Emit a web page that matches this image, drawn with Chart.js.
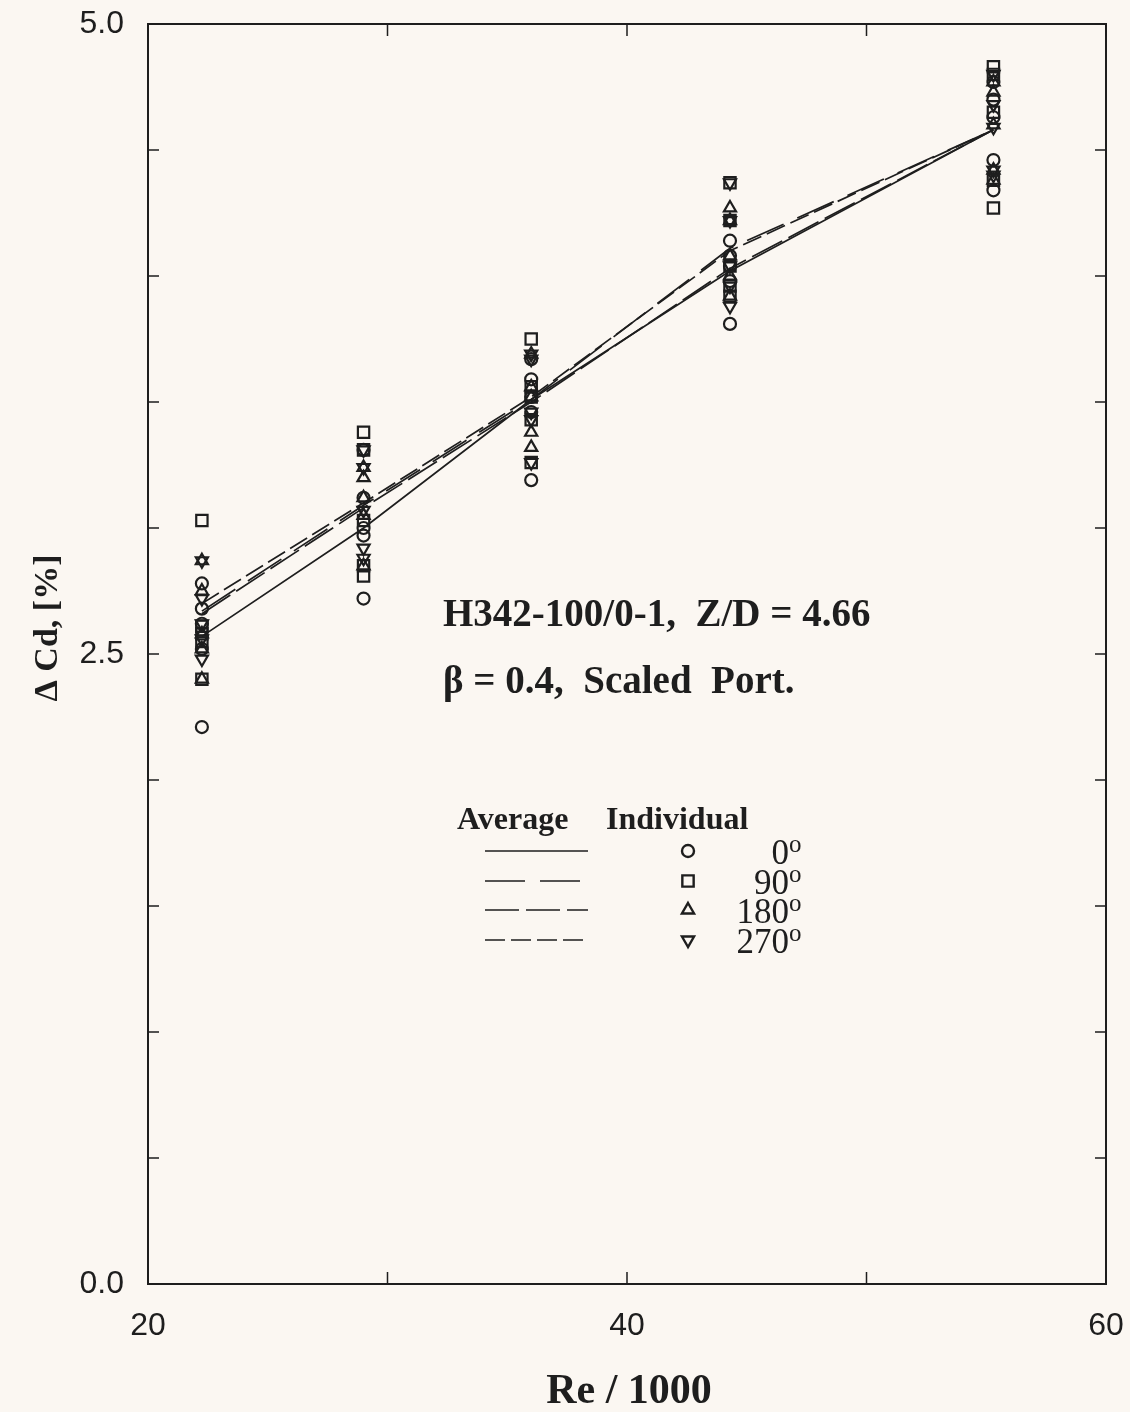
<!DOCTYPE html>
<html>
<head>
<meta charset="utf-8">
<script src="https://cdn.jsdelivr.net/npm/chart.js@4.4.1/dist/chart.umd.min.js"></script>
<style>
  html, body { margin: 0; padding: 0; background: #fbf7f2; }
  #wrap { width: 1130px; height: 1412px; }
</style>
</head>
<body>
<div id="wrap"><canvas id="cdChart" width="1130" height="1412"></canvas></div>
<script>
// Re/1000 stations
var reValues = [22.25, 29.0, 36.0, 44.3, 55.3];

// averaged delta Cd per orientation
var avg0   = [2.57, 3.00, 3.51, 4.02, 4.58];
var avg90  = [2.67, 3.09, 3.51, 4.11, 4.58];
var avg180 = [2.66, 3.08, 3.50, 4.03, 4.58];
var avg270 = [2.70, 3.10, 3.52, 4.10, 4.58];

// individual runs, one row per Re station
var ind0 = [
  [2.78, 2.68, 2.62, 2.52, 2.21],
  [3.31, 3.12, 3.00, 2.97, 2.72],
  [3.67, 3.59, 3.52, 3.46, 3.19],
  [4.14, 4.08, 4.04, 3.98, 3.81],
  [4.77, 4.70, 4.63, 4.46, 4.34]
];
var ind90 = [
  [3.03, 2.61, 2.58, 2.55, 2.40],
  [3.38, 3.31, 3.03, 2.85, 2.81],
  [3.75, 3.56, 3.52, 3.43, 3.26],
  [4.37, 4.22, 4.04, 3.96, 3.92],
  [4.83, 4.80, 4.65, 4.38, 4.27]
];
var ind180 = [
  [2.87, 2.75, 2.58, 2.52, 2.40],
  [3.24, 3.20, 3.12, 3.05, 2.85],
  [3.69, 3.56, 3.52, 3.38, 3.32],
  [4.27, 4.22, 4.08, 4.00, 3.92],
  [4.77, 4.73, 4.60, 4.42, 4.38]
];
var ind270 = [
  [2.87, 2.72, 2.62, 2.56, 2.48],
  [3.31, 3.24, 3.07, 2.92, 2.88],
  [3.69, 3.67, 3.46, 3.43, 3.26],
  [4.37, 4.22, 4.04, 3.96, 3.88],
  [4.80, 4.68, 4.59, 4.42, 4.40]
];

var xTicks = [20, 30, 40, 50, 60];
var xTickLabels = ['20', '', '40', '', '60'];
var yTicks = [0, 0.5, 1, 1.5, 2, 2.5, 3, 3.5, 4, 4.5, 5];
var yTickLabels = ['0.0', '', '', '', '', '2.5', '', '', '', '', '5.0'];

var legendAngles = ['0', '90', '180', '270'];

var ink = '#1e1e1e';

function toPoints(ys) {
  return reValues.map(function(x, i) { return { x: x, y: ys[i] }; });
}
function scatterPoints(rows) {
  var pts = [];
  rows.forEach(function(row, i) {
    row.forEach(function(v) { pts.push({ x: reValues[i], y: v }); });
  });
  return pts;
}

function avgLine(data, dash) {
  return {
    type: 'line', data: toPoints(data), borderColor: ink, borderWidth: 1.7,
    borderDash: dash, pointRadius: 0, fill: false, tension: 0, order: 1
  };
}
function markers(rows, style, radius, rotation) {
  return {
    type: 'scatter', data: scatterPoints(rows), pointStyle: style,
    pointRadius: radius, pointRotation: rotation || 0, borderColor: ink,
    pointBorderWidth: 2.2, backgroundColor: 'rgba(0,0,0,0)', order: 0
  };
}

var lineDashes = [[], [40, 15], [34, 7], [20, 6]];
var markerStyles = [
  { style: 'circle', r: 6, rot: 0 },
  { style: 'rect', r: 8, rot: 0 },
  { style: 'triangle', r: 7, rot: 0 },
  { style: 'triangle', r: 7, rot: 180 }
];

// frame, inward ticks, labels and the text block
var decorations = {
  id: 'decorations',
  afterDraw: function(chart) {
    var ctx = chart.ctx, a = chart.chartArea;
    var sx = chart.scales.x, sy = chart.scales.y;
    ctx.save();
    ctx.strokeStyle = ink;
    ctx.lineWidth = 2;
    ctx.strokeRect(a.left, a.top, a.right - a.left, a.bottom - a.top);

    ctx.lineWidth = 1.5;
    ctx.beginPath();
    xTicks.forEach(function(v) {
      var px = sx.getPixelForValue(v);
      ctx.moveTo(px, a.bottom); ctx.lineTo(px, a.bottom - 12);
      ctx.moveTo(px, a.top); ctx.lineTo(px, a.top + 12);
    });
    yTicks.forEach(function(v) {
      var py = sy.getPixelForValue(v);
      ctx.moveTo(a.left, py); ctx.lineTo(a.left + 11, py);
      ctx.moveTo(a.right, py); ctx.lineTo(a.right - 11, py);
    });
    ctx.stroke();

    ctx.fillStyle = ink;
    ctx.font = '32px "Liberation Sans", Arial, sans-serif';
    ctx.textAlign = 'center';
    ctx.textBaseline = 'top';
    xTicks.forEach(function(v, i) {
      if (xTickLabels[i]) ctx.fillText(xTickLabels[i], sx.getPixelForValue(v), a.bottom + 26);
    });
    ctx.textAlign = 'right';
    ctx.textBaseline = 'middle';
    yTicks.forEach(function(v, i) {
      if (yTickLabels[i]) ctx.fillText(yTickLabels[i], a.left - 24, sy.getPixelForValue(v));
    });

    // axis titles
    ctx.font = 'bold 42px "Liberation Serif", "Times New Roman", serif';
    ctx.textAlign = 'center';
    ctx.textBaseline = 'alphabetic';
    ctx.fillText('Re / 1000', 629, 1403);
    ctx.save();
    ctx.translate(57, 628);
    ctx.rotate(-Math.PI / 2);
    ctx.font = 'bold 34px "Liberation Serif", "Times New Roman", serif';
    ctx.fillText('\u0394 Cd, [%]', 0, 0);
    ctx.restore();

    // annotation
    ctx.textAlign = 'left';
    ctx.font = 'bold 39px "Liberation Serif", "Times New Roman", serif';
    ctx.fillText('H342-100/0-1,  Z/D = 4.66', 443, 626);
    ctx.fillText('\u03b2 = 0.4,  Scaled  Port.', 443, 693);

    // legend block
    ctx.font = 'bold 32px "Liberation Serif", "Times New Roman", serif';
    ctx.fillText('Average', 457, 829);
    ctx.fillText('Individual', 606, 829);
    var rows = [851, 881, 910, 940];
    rows.forEach(function(y, i) {
      ctx.save();
      ctx.lineWidth = 1.7;
      ctx.setLineDash(lineDashes[i]);
      ctx.beginPath();
      ctx.moveTo(485, y); ctx.lineTo(588, y);
      ctx.stroke();
      ctx.restore();

      var m = markerStyles[i];
      ctx.save();
      ctx.lineWidth = 2.4;
      ctx.strokeStyle = ink;
      ctx.fillStyle = 'rgba(0,0,0,0)';
      Chart.helpers.drawPoint(ctx, { pointStyle: m.style, radius: m.r, rotation: m.rot, borderWidth: 2.4 }, 688, y);
      ctx.restore();

      // angle with raised "o"
      ctx.font = '35px "Liberation Serif", "Times New Roman", serif';
      ctx.textAlign = 'right';
      ctx.fillText(legendAngles[i], 789, y + 13);
      ctx.font = '25px "Liberation Serif", "Times New Roman", serif';
      ctx.textAlign = 'left';
      ctx.fillText('o', 789, y + 1);
    });
    ctx.restore();
  }
};

var datasets = [
  avgLine(avg0, lineDashes[0]),
  avgLine(avg90, lineDashes[1]),
  avgLine(avg180, lineDashes[2]),
  avgLine(avg270, lineDashes[3])
];
[ind0, ind90, ind180, ind270].forEach(function(rows, i) {
  var m = markerStyles[i];
  datasets.push(markers(rows, m.style, m.r, m.rot));
});

new Chart(document.getElementById('cdChart').getContext('2d'), {
  type: 'scatter',
  data: { datasets: datasets },
  options: {
    responsive: false,
    animation: false,
    layout: { padding: { left: 148, right: 24, top: 24, bottom: 128 } },
    plugins: { legend: { display: false }, tooltip: { enabled: false } },
    scales: {
      x: { type: 'linear', min: 20, max: 60, display: false },
      y: { type: 'linear', min: 0, max: 5, display: false }
    }
  },
  plugins: [decorations]
});
</script>
</body>
</html>
